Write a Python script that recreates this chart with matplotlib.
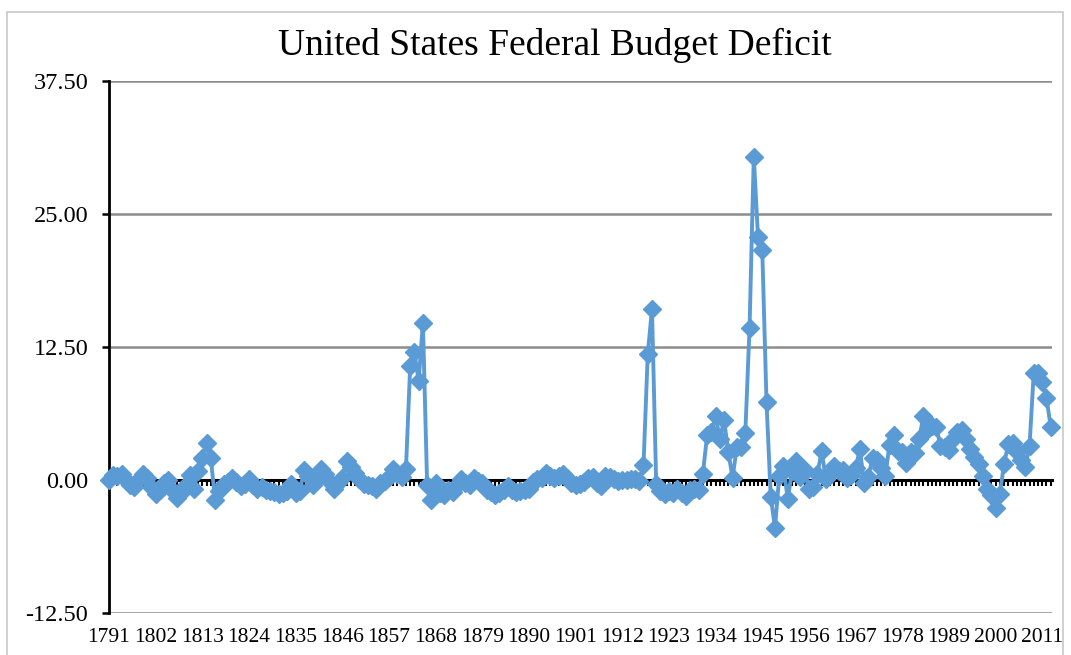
#----- importing modules -----
import matplotlib
matplotlib.use("Agg")
import matplotlib.pyplot as plt
from matplotlib.patches import Rectangle
from matplotlib.ticker import FixedLocator, MultipleLocator

#----- data (deficit, % of GDP) -----
first_year = 1791
deficit = [
    # 1791-1800
    0.0, 0.5, 0.4, 0.6, 0.0, -0.5, -0.7, 0.1, 0.6, 0.2,
    # 1801-1810
    -0.7, -1.3, -0.9, -0.3, 0.0, -1.0, -1.7, -1.2, -0.6, 0.5,
    # 1811-1820
    -0.8, 0.8, 2.1, 3.5, 2.1, -1.9, -1.0, -0.4, -0.2, 0.2,
    # 1821-1830
    -0.2, -0.6, -0.4, 0.1, -0.5, -0.8, -0.7, -0.9, -1.0, -1.1,
    # 1831-1840
    -1.3, -1.2, -1.0, -0.4, -1.2, -1.0, 0.9, 0.4, -0.5, 0.3,
    # 1841-1850
    1.0, 0.6, -0.2, -0.8, -0.3, 0.2, 1.8, 1.2, 0.7, 0.1,
    # 1851-1860
    -0.4, -0.5, -0.6, -0.8, -0.3, -0.1, 0.3, 1.0, 0.6, 0.3,
    # 1861-1870
    1.0, 10.7, 12.0, 9.3, 14.8, -0.5, -1.9, -0.3, -1.2, -1.4,
    # 1871-1880
    -0.9, -1.1, -0.5, 0.1, -0.3, -0.5, 0.2, -0.1, -0.3, -0.9,
    # 1881-1890
    -1.1, -1.4, -1.2, -0.9, -0.6, -0.9, -1.1, -1.0, -0.9, -0.8,
    # 1891-1900
    -0.2, 0.1, 0.2, 0.7, 0.4, 0.2, 0.4, 0.6, 0.2, -0.3,
    # 1901-1910
    -0.5, -0.4, -0.2, 0.2, 0.3, -0.3, -0.6, 0.4, 0.3, 0.1,
    # 1911-1920
    -0.1, 0.0, 0.0, 0.1, 0.1, -0.1, 1.4, 11.8, 16.1, -0.4,
    # 1921-1930
    -1.0, -1.3, -1.0, -1.2, -0.8, -1.2, -1.5, -0.9, -0.8, -0.9,
    # 1931-1940
    0.6, 4.2, 4.5, 6.0, 3.9, 5.6, 2.6, 0.2, 3.1, 3.1,
    # 1941-1950
    4.4, 14.3, 30.4, 22.8, 21.6, 7.3, -1.6, -4.5, 0.4, 1.3,
    # 1951-1960
    -1.8, 0.8, 1.8, 0.3, 0.9, -0.8, -0.7, 0.6, 2.7, 0.1,
    # 1961-1970
    0.6, 1.3, 0.8, 0.9, 0.2, 0.5, 1.1, 2.9, -0.3, 0.3,
    # 1971-1980
    2.1, 1.9, 1.1, 0.4, 3.3, 4.2, 2.7, 2.6, 1.6, 2.6,
    # 1981-1990
    2.5, 3.9, 6.0, 4.8, 5.1, 5.0, 3.2, 3.1, 2.8, 3.9,
    # 1991-2000
    4.5, 4.7, 3.9, 2.9, 2.2, 1.5, 0.4, -0.8, -1.4, -2.6,
    # 2001-2010
    -1.3, 1.5, 3.4, 3.5, 2.6, 1.9, 1.2, 3.2, 10.1, 10.1,
    # 2011-2013
    9.2, 7.7, 5.0,
]
years = list(range(first_year, first_year + len(deficit)))
label_years = list(range(1791, 2012, 11))
y_ticks = [-12.5, 0.0, 12.5, 25.0, 37.5]

#----- figure -----
plt.rcParams['font.family'] = ['Liberation Serif', 'DejaVu Serif']
fig = plt.figure(figsize=(10.71, 6.55), dpi=100)
W, H = 1071.0, 655.0
ax = fig.add_axes([109 / W, 1 - 613 / H, (1052 - 109) / W, (613 - 81) / H])

# light chart border
fig.patches.append(Rectangle((7 / W, -0.05), (1063 - 7) / W, 1.05 - 12 / H,
                             transform=fig.transFigure, fill=False,
                             edgecolor='#c8c8c8', linewidth=1.2))

ax.plot(years, deficit, color='#5b9bd5', linewidth=2.8, marker='D',
        markersize=9.5, markerfacecolor='#5b9bd5', markeredgecolor='#5b9bd5',
        zorder=3, clip_on=False)

ax.set_xlim(first_year, 2013.3)
ax.set_ylim(-12.5, 37.5)

# y axis
ax.yaxis.set_major_locator(FixedLocator(y_ticks))
ax.set_yticklabels(["%.2f" % v for v in y_ticks])
ax.tick_params(axis='y', direction='out', length=5, width=1.8, color='black',
               labelsize=17.5, pad=10)
ax.yaxis.grid(True, color='#8c8c8c', linewidth=1.8)
ax.set_axisbelow(True)

# category axis crossing at zero, tick every year
for s in ['top', 'right']:
    ax.spines[s].set_visible(False)
ax.spines['left'].set_linewidth(2.0)
ax.spines['bottom'].set_position(('data', 0))
ax.spines['bottom'].set_linewidth(2.2)
ax.xaxis.set_major_locator(MultipleLocator(1))
ax.tick_params(axis='x', direction='out', length=4.5, width=1.5, color='black',
               labelbottom=False)

# year labels at the bottom of the plot area
sec = ax.secondary_xaxis('bottom')
sec.xaxis.set_major_locator(FixedLocator(label_years))
sec.set_xticklabels([str(y) for y in label_years])
sec.tick_params(axis='x', length=0, labelsize=15.5, pad=11)
sec.spines['bottom'].set_visible(False)

fig.text(555 / W, 1 - 45 / H, "United States Federal Budget Deficit",
         ha='center', va='center', fontsize=27)

fig.savefig("out.png", dpi=100)
